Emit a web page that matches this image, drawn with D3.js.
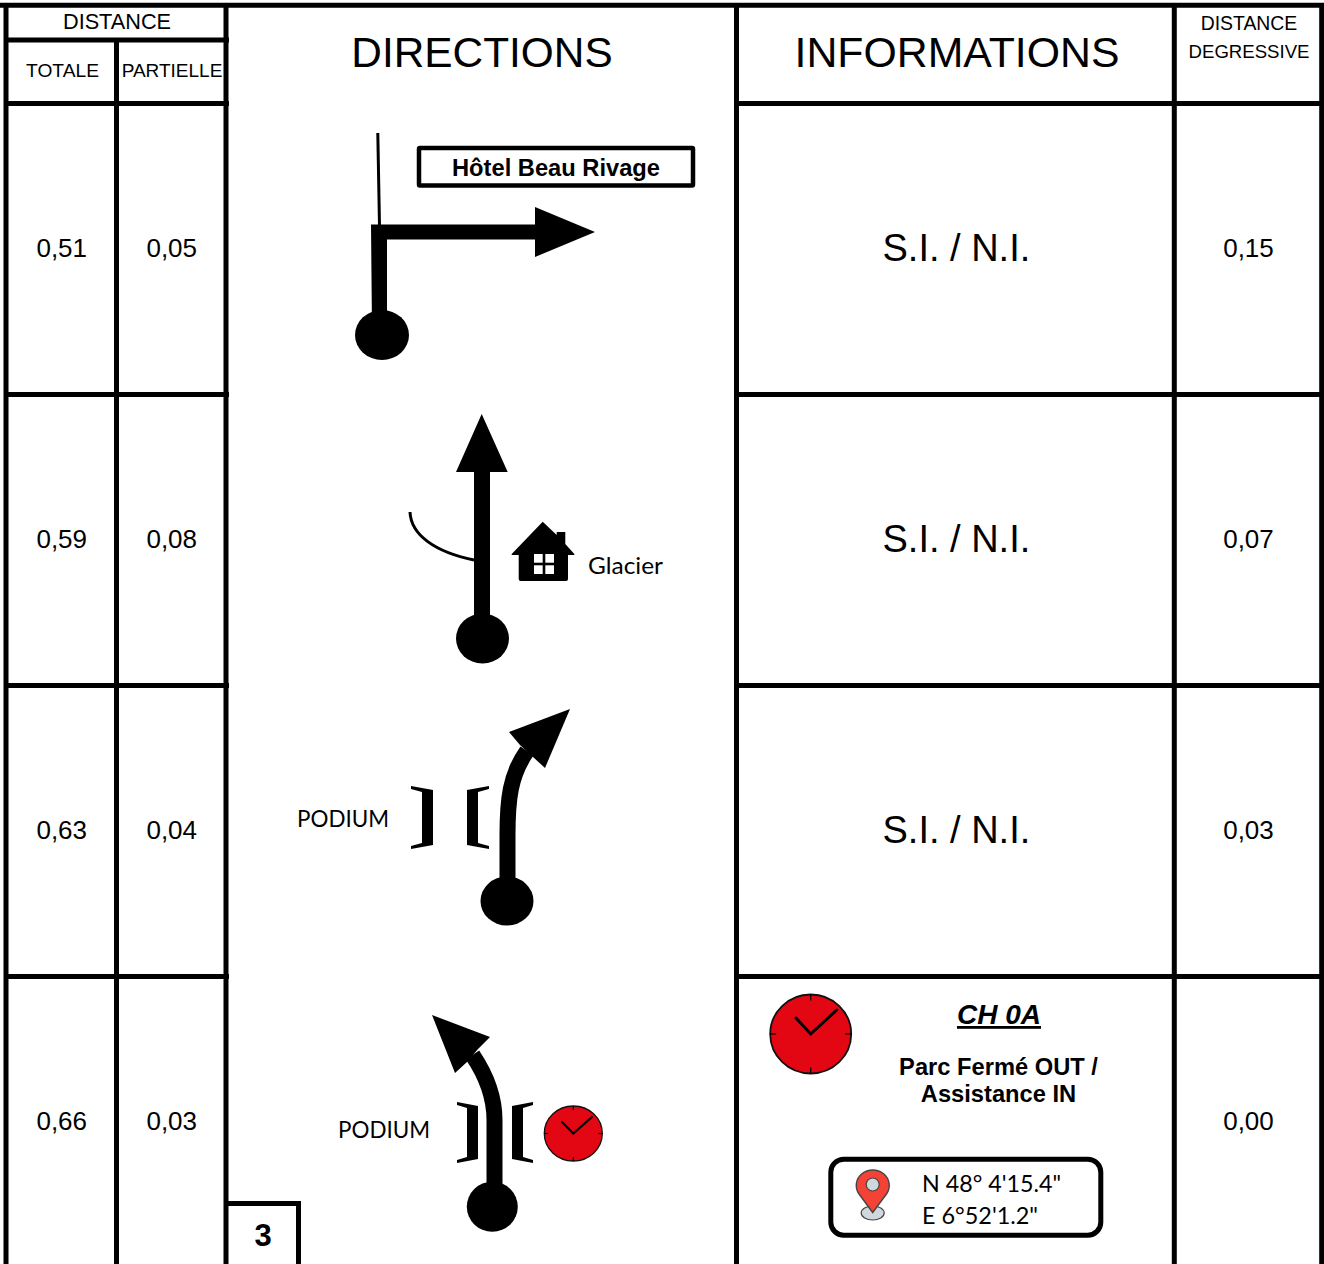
<!DOCTYPE html>
<html><head><meta charset="utf-8">
<script src="https://cdn.jsdelivr.net/npm/d3@7"></script>
<style>html,body{margin:0;padding:0;background:#fff;overflow:hidden}svg{display:block}
text{font-family:"Liberation Sans",Arial,sans-serif;fill:#000}.lato{font-family:Lato,"Noto Sans",sans-serif}</style>
</head><body><script>
const totale = ["0,51","0,59","0,63","0,66"];
const partielle = ["0,05","0,08","0,04","0,03"];
const degressive = ["0,15","0,07","0,03","0,00"];
const infos = ["S.I. / N.I.","S.I. / N.I.","S.I. / N.I."];
const columns = ["totale","partielle","directions","informations","degressive"];
const columnEdges = [6,116.5,226,736.5,1174.3,1321.7];
const rowIdx = [0,1,2,3];
const W=1324,H=1264;
const svg=d3.select("body").append("svg").attr("width",W).attr("height",H);
const y=d3.scaleBand().domain(rowIdx).range([103.5,1267.5]);
const xL=d3.scaleOrdinal().domain(columns).range(columnEdges.slice(0,5));
const xR=d3.scaleOrdinal().domain(columns).range(columnEdges.slice(1));
const xC=c=>(xL(c)+xR(c))/2;
const sw=5;
function ln(x1,y1,x2,y2,w=sw){svg.append("line").attr("x1",x1).attr("y1",y1).attr("x2",x2).attr("y2",y2).attr("stroke","#000").attr("stroke-width",w);}
function tx(s,x,yy,size,o={}){const t=(o.g||svg).append("text").attr("x",x).attr("y",yy).attr("font-size",size).attr("text-anchor",o.anchor||"middle").text(s);
 if(o.bold)t.attr("font-weight","bold"); if(o.italic)t.attr("font-style","italic"); if(o.cls)t.attr("class",o.cls); if(o.ul)t.attr("text-decoration","underline");
 if(o.len)t.attr("textLength",o.len).attr("lengthAdjust","spacingAndGlyphs"); return t;}
// grid
ln(0,5.2,W,5.2); 
columnEdges.forEach((e,i)=>{ln(e,i==1?40:3,e,H)});
ln(4,40,229,40);
[0,1,2,3].forEach(r=>{const v=y(r);ln(4,v,229,v);ln(734,v,W,v)});
// header
tx("DISTANCE",117,29,21.7);
tx("TOTALE",62.5,77,19.2);
tx("PARTIELLE",172,77,19);
tx("DIRECTIONS",482,67,42.4);
tx("INFORMATIONS",957,67,42.8);
tx("DISTANCE",1249,30,19.4);
tx("DEGRESSIVE",1249,58,18.6);
// columns
const cell=(arr,c)=>svg.append("g").selectAll("text").data(arr).join("text").attr("x",xC(c)+0.5).attr("y",(d,i)=>y(i)+y.bandwidth()/2+7.5).attr("text-anchor","middle").attr("font-size",26).text(d=>d);
cell(totale,"totale");cell(partielle,"partielle");cell(degressive,"degressive");
svg.append("g").selectAll("text").data(infos).join("text").attr("x",xC("informations")+1).attr("y",(d,i)=>y(i)+y.bandwidth()/2+11.5).attr("text-anchor","middle").attr("font-size",38).text(d=>d);
// icons
const P=(d,fill="#000")=>svg.append("path").attr("d",d).attr("fill",fill);
const S=(d,w)=>svg.append("path").attr("d",d).attr("fill","none").attr("stroke","#000").attr("stroke-width",w);
const E=(cx,cy,rx,ry,fill="#000")=>svg.append("ellipse").attr("cx",cx).attr("cy",cy).attr("rx",rx).attr("ry",ry).attr("fill",fill);
// row 1
S("M377.8,133L379.5,226",3);
P("M371,224.5H535V207L595,232L535,257V239.5H387V330H372Z");
E(382,335,27,25);
svg.append("rect").attr("x",419).attr("y",148).attr("width",274).attr("height",37.5).attr("fill","#fff").attr("stroke","#000").attr("stroke-width",4.5).attr("rx",1);
tx("Hôtel Beau Rivage",556,176,23.7,{bold:true});
// row 2
P("M474,640V472H456L481.7,414L507.7,472H490V640Z");
E(482.5,638.5,26.5,25);
S("M410,512C411,535 435,552 474,560",3);
P("M542.7,521.7L556.7,535V532H565.3V544L574.3,554V555H568V579Q568,581 566,581H520.7Q518.7,581 518.7,579V555H511.7V554Z");
svg.append("rect").attr("x",534).attr("y",554).attr("width",20).attr("height",20).attr("fill","#fff");
ln(544,554,544,574,2.6);ln(534,564,554,564,2.6);
tx("Glacier",588,574,23.5,{anchor:"start",cls:"lato",len:75});
// row 3
S("M507.5,885V835C507.5,800 510,775 527,751",16);
P("M570,709L545,768L533,757L520,745L509,732Z");
E(507,901,26.5,24.5);
const bracketR=(x0,x1,t,b)=>{const m=x1-11;P(`M${x0},${t}L${x1},${t+4}V${b-4}L${x0},${b}V${b-3}L${m},${b-6}V${t+6}L${x0},${t+3}Z`)};
const bracketL=(x0,x1,t,b)=>{const m=x0+11;P(`M${x1},${t}L${x0},${t+4}V${b-4}L${x1},${b}V${b-3}L${m},${b-6}V${t+6}L${x1},${t+3}Z`)};
bracketR(411,433,786,849);bracketL(467,489,786,849);
tx("PODIUM",297,827,23,{anchor:"start",cls:"lato",len:92});
// row 4
S("M494.5,1190V1120C494.5,1098 488,1078 472.5,1055",16);
P("M432,1015L490,1037L478,1049L467,1062L455,1073Z");
E(492.3,1206.7,25.5,25);
bracketR(457,478,1102,1163);bracketL(512,533,1102,1163);
tx("PODIUM",338,1138,23,{anchor:"start",cls:"lato",len:92});
function clock(cx,cy,rx,ry,sx,sy,lx,ly,w,tw){
 svg.append("ellipse").attr("cx",cx).attr("cy",cy).attr("rx",rx).attr("ry",ry).attr("fill","#E30613").attr("stroke","#111").attr("stroke-width",w*0.6);
 S(`M${sx},${sy}L${cx},${cy}L${lx},${ly}`,w).attr("stroke-linecap","round");
 [[0,-1],[1,0],[0,1],[-1,0]].forEach(([a,b])=>ln(cx+a*rx,cy+b*ry,cx+a*(rx-tw),cy+b*(ry-tw),1.2));
}
clock(573.3,1133.5,29,27.5,562,1122,592,1117,2.2,4);
clock(810.7,1034,40.5,39.5,796,1018,836.7,1010,3,6);
// info cell
tx("CH 0A",999,1024,28,{bold:true,italic:true,ul:true});
tx("Parc Fermé OUT /",998.5,1075,23.7,{bold:true});
tx("Assistance IN",998.5,1102,23.7,{bold:true});
svg.append("rect").attr("x",830.8).attr("y",1159.2).attr("width",270).attr("height",76).attr("rx",13).attr("fill","#fff").attr("stroke","#000").attr("stroke-width",5);
svg.append("ellipse").attr("cx",872.7).attr("cy",1213).attr("rx",11.5).attr("ry",7).attr("fill","#CFD8DC").attr("stroke","#444").attr("stroke-width",1.2);
svg.append("path").attr("d","M872.7,1212.5L859,1194A16.5,15.5 0 1 1 886.5,1194Z").attr("fill","#F44336").attr("stroke","#444").attr("stroke-width",1.4);
svg.append("circle").attr("cx",872.7).attr("cy",1184.5).attr("r",6.5).attr("fill","#CFD8DC").attr("stroke","#444").attr("stroke-width",1.2);
tx("N 48° 4'15.4\"",922,1191.5,24,{anchor:"start",cls:"lato",len:139});
tx("E 6°52'1.2\"",922,1223.5,24,{anchor:"start",cls:"lato",len:116});
// page box
ln(226,1203.5,301,1203.5);ln(298.5,1201,298.5,H);
tx("3",263,1246,31,{bold:true});
</script></body></html>
